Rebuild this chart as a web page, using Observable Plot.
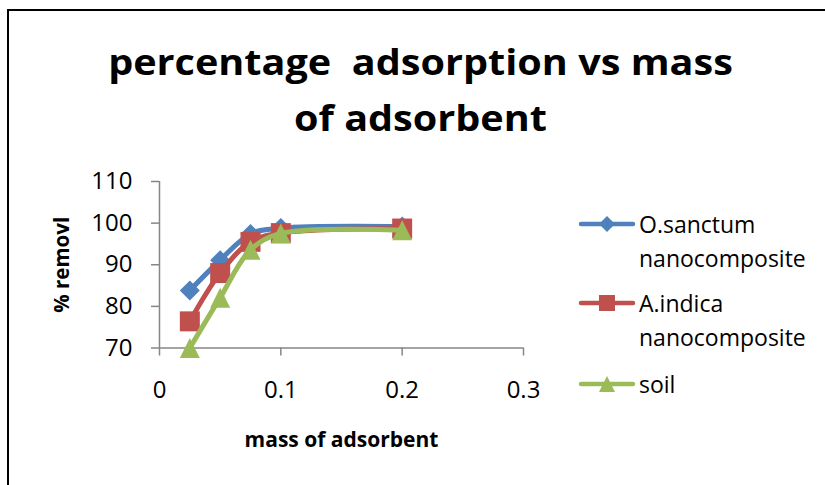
<!DOCTYPE html>
<html>
<head>
<meta charset="utf-8">
<script src="https://cdn.jsdelivr.net/npm/d3@7"></script>
<script src="https://cdn.jsdelivr.net/npm/@observablehq/plot@0.6"></script>
<style>
  html, body { margin: 0; padding: 0; background: #fff; }
  body { width: 825px; height: 485px; overflow: hidden; position: relative; font-family: "Open Sans", sans-serif; }
  #frame { position: absolute; left: 7px; top: 9px; width: 900px; height: 600px;
           border-top: 2.5px solid #000; border-left: 2.5px solid #000; box-sizing: border-box; }
  .title { position: absolute; left: 0; width: 841px; text-align: center; font-weight: 700;
           font-size: 36px; line-height: 55px; color: #000; white-space: pre;
           transform: scaleX(1.1); transform-origin: 420.5px 50%; }
  #plot { position: absolute; left: 0; top: 150px; }
  .legend-item { position: absolute; left: 578px; display: flex; align-items: flex-start; }
  .legend-item span { font-size: 23px; line-height: 34px; color: #000; width: 180px; margin-left: 3px; }
</style>
</head>
<body>
<div id="frame"></div>
<div class="title" style="top:33.5px">percentage  adsorption vs mass</div>
<div class="title" style="top:90px">of adsorbent</div>
<div id="plot"></div>
<div id="legend"></div>
<script>
// Mass of adsorbent (g) and percentage removal for each adsorbent
const mass = [0.025, 0.05, 0.075, 0.1, 0.2];
const oSanctum = [83.8, 91.1, 97.4, 98.8, 99.2];
const aIndica = [76.4, 88.0, 95.5, 97.6, 98.7];
const soil = [70.0, 82.1, 93.6, 97.5, 98.3];

const seriesNames = ["O.sanctum nanocomposite", "A.indica nanocomposite", "soil"];
const seriesValues = [oSanctum, aIndica, soil];
const seriesColors = ["#4F81BD", "#C0504D", "#9BBB59"];

const xTicks = [0, 0.1, 0.2, 0.3];
const yTicks = [70, 80, 90, 100, 110];

// Marker shapes sized so that r is the half-width of the marker
const shape = (path) => ({draw(ctx, size) { const r = Math.sqrt(size / Math.PI); path(ctx, r); }});
const diamond = shape((c, r) => { c.moveTo(0, -r); c.lineTo(r, 0); c.lineTo(0, r); c.lineTo(-r, 0); c.closePath(); });
const square = shape((c, r) => { c.rect(-r, -r, 2 * r, 2 * r); });
const triangle = shape((c, r) => { c.moveTo(0, -r); c.lineTo(r, r); c.lineTo(-r, r); c.closePath(); });
const symbols = [diamond, square, triangle];

const rows = seriesNames.map((name, i) =>
  mass.map((m, j) => ({series: name, mass: m, removal: seriesValues[i][j]})));

const axisGray = "#868686";
const seriesMarks = rows.flatMap((data, i) => [
  Plot.line(data, {x: "mass", y: "removal", stroke: seriesColors[i], strokeWidth: 5, curve: "catmull-rom"}),
  Plot.dot(data, {x: "mass", y: "removal", fill: seriesColors[i], stroke: "none", r: 10, symbol: symbols[i]})
]);

const chart = Plot.plot({
  width: 825,
  height: 335,
  marginTop: 31,
  marginBottom: 137.5,
  marginLeft: 159,
  marginRight: 302,
  style: {fontFamily: "'Open Sans', sans-serif", fontSize: "24px", color: "#000", background: "transparent"},
  x: {domain: [0, 0.3]},
  y: {domain: [70, 110]},
  marks: [
    Plot.axisY({ticks: yTicks, tickSize: 8, tickPadding: 19, stroke: axisGray, strokeWidth: 1.5, fill: "#000", label: null}),
    Plot.axisX({ticks: xTicks, tickSize: 8, tickPadding: 25, stroke: axisGray, strokeWidth: 1.5, fill: "#000",
                tickFormat: (d) => String(d), label: null}),
    Plot.ruleX([0], {y1: 70, y2: 110, stroke: axisGray, strokeWidth: 1.5}),
    Plot.ruleY([70], {x1: 0, x2: 0.3, stroke: axisGray, strokeWidth: 1.5}),
    Plot.text(["mass of adsorbent"], {frameAnchor: "bottom", dy: 92.5, lineAnchor: "middle", textAnchor: "middle",
              fontWeight: "bold", fontSize: 21, fill: "#000"}),
    Plot.text(["% removl"], {frameAnchor: "left", dx: -97, rotate: -90, lineAnchor: "middle", textAnchor: "middle",
              fontWeight: "bold", fontSize: 20.5, fill: "#000"}),
    ...seriesMarks
  ]
});
document.getElementById("plot").append(chart);

// Legend: line sample with marker, then the series name
const legend = document.getElementById("legend");
const itemTops = [206.8, 285.8, 366.8];
seriesNames.forEach((name, i) => {
  const item = document.createElement("div");
  item.className = "legend-item";
  item.style.top = itemTops[i] + "px";
  const svg = d3.create("svg").attr("width", 58).attr("height", 34);
  svg.append("line").attr("x1", 3).attr("x2", 55).attr("y1", 17).attr("y2", 17)
    .attr("stroke", seriesColors[i]).attr("stroke-width", 4.5).attr("stroke-linecap", "round");
  svg.append("path").attr("transform", "translate(29,17)")
    .attr("d", d3.symbol(symbols[i], 8 * 8 * Math.PI)()).attr("fill", seriesColors[i]);
  item.append(svg.node());
  const label = document.createElement("span");
  label.textContent = name;
  item.append(label);
  legend.append(item);
});
</script>
</body>
</html>
